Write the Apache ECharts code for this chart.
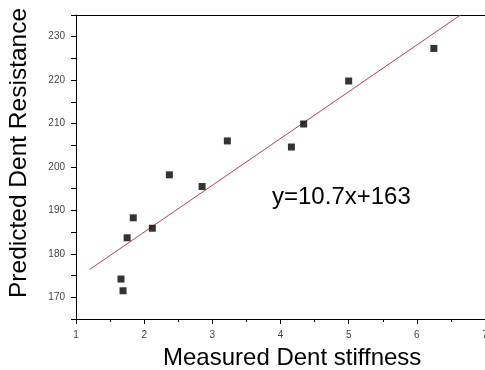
<!DOCTYPE html>
<html>
<head>
<meta charset="utf-8">
<script src="https://cdn.jsdelivr.net/npm/echarts@6/dist/echarts.min.js"></script>
<style>
  html, body { margin: 0; padding: 0; background: #fff; }
  #chart { width: 485px; height: 370px; }
</style>
</head>
<body>
<div id="chart"></div>
<script>
// measured stiffness vs predicted resistance
const stiffness = [1.66, 1.69, 1.75, 1.84, 2.12, 2.37, 2.85, 3.22, 4.16, 4.34, 5.0, 6.25]
const resistance = [174.2, 171.5, 183.7, 188.3, 185.9, 198.2, 195.5, 206.0, 204.6, 209.9, 219.8, 227.3]
// fitted line end points
const fitX = [1.2, 6.64]
const fitY = [176.4, 235]
const equation = 'y=10.7x+163'

const font = 'Arial, "Liberation Sans", sans-serif'

const chart = echarts.init(document.getElementById('chart'))
chart.setOption({
  animation: false,
  grid: { left: 76, right: 0, top: 15, bottom: 51, outerBoundsMode: 'none' },
  xAxis: [
    {
      type: 'value',
      min: 1,
      max: 7,
      interval: 1,
      axisLine: { show: true, lineStyle: { color: '#000', width: 1 } },
      axisTick: { show: true, length: 5, lineStyle: { color: '#000' } },
      minorTick: { show: true, splitNumber: 2, length: 3, lineStyle: { color: '#000' } },
      splitLine: { show: false },
      axisLabel: { color: '#444', fontSize: 10, fontFamily: font, margin: 11, showMaxLabel: true }
    },
    {
      type: 'value',
      position: 'top',
      min: 1,
      max: 7,
      axisLine: { show: true, lineStyle: { color: '#000', width: 1 } },
      axisTick: { show: false },
      axisLabel: { show: false },
      splitLine: { show: false }
    }
  ],
  yAxis: {
    type: 'value',
    min: 165,
    max: 235,
    interval: 5,
    axisLine: { show: true, lineStyle: { color: '#000', width: 1 } },
    axisTick: { show: true, length: 5, lineStyle: { color: '#000' } },
    splitLine: { show: false },
    axisLabel: {
      color: '#444',
      fontSize: 10,
      fontFamily: font,
      margin: 11,
      formatter: v => (v % 10 === 0 ? String(v) : '')
    }
  },
  graphic: [
    {
      type: 'text',
      left: 163,
      top: 346,
      style: { text: 'Measured Dent stiffness', font: '24px ' + font, fill: '#000' }
    },
    {
      type: 'text',
      rotation: Math.PI / 2,
      x: 7,
      y: 298,
      style: { text: 'Predicted Dent Resistance', font: '24.5px ' + font, fill: '#000' }
    },
    {
      type: 'text',
      left: 272,
      top: 185,
      style: { text: equation, font: '24px ' + font, fill: '#000' }
    }
  ],
  series: [
    {
      type: 'line',
      data: fitX.map((x, i) => [x, fitY[i]]),
      symbol: 'none',
      lineStyle: { color: '#c0404f', width: 1 },
      z: 2
    },
    {
      type: 'scatter',
      data: stiffness.map((x, i) => [x, resistance[i]]),
      symbol: 'rect',
      symbolSize: 7,
      itemStyle: { color: '#000' },
      z: 3
    }
  ]
})
</script>
</body>
</html>
